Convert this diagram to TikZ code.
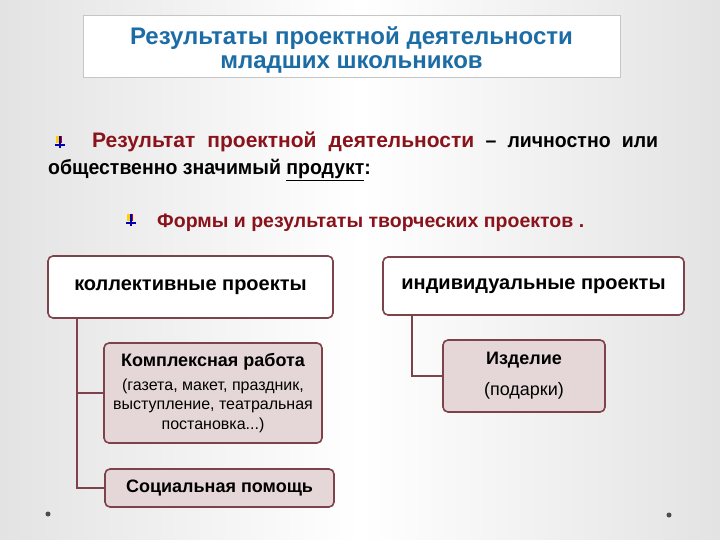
\documentclass[tikz,border=0pt]{standalone}
\usepackage{fontspec}
\setmainfont{Liberation Sans}
\newfontfamily\narrowfont[FakeStretch=0.95]{Liberation Sans}
\usetikzlibrary{calc,positioning}
\definecolor{ttlblue}{RGB}{28,108,165}
\definecolor{dkred}{RGB}{138,18,26}
\definecolor{frame}{RGB}{125,66,74}
\definecolor{pinkgray}{RGB}{229,215,215}
\newcommand{\fs}[1]{\fontsize{#1}{#1}\selectfont}
\newcommand{\bulicon}[1]{%
  \begin{scope}[shift={#1}]
    \fill[yellow!70!orange] (-4,-6) rectangle (0,1);
    \fill[red!80!black] (0,-6) rectangle (2,1);
    \draw[blue!70!black, line width=1.4pt] (0,-6) -- (0,6);
    \draw[blue!70!black, line width=1.4pt] (-5,3) -- (5,3);
  \end{scope}}
\tikzset{
  topbox/.style={draw=frame, line width=1.6pt, rounded corners=5pt, fill=white, inner sep=0pt, align=center},
  subbox/.style={topbox, fill=pinkgray},
  link/.style={draw=frame, line width=1.5pt},
}

\begin{document}
\begin{tikzpicture}[x=1pt,y=-1pt]
  \shade[left color=gray!22, right color=gray!22, middle color=white] (0,0) rectangle (720,540);
  \useasboundingbox (0,0) rectangle (720,540);
  \node[draw=gray!45, fill=white, minimum width=537pt, minimum height=62pt] (titlebox) at (351.5,46) {};
  \node[align=center, text=ttlblue, font=\bfseries\fontsize{24}{24}\selectfont] (title) at ($(titlebox)+(0,4)$)
        {Результаты проектной деятельности\\младших школьников};
  \bulicon{(60,142)}
  \node[anchor=west, inner sep=0pt, font=\narrowfont\bfseries\fs{20.5}] (res) at (92,142)
    {\makebox[566pt][s]{\textcolor{dkred}{\normalfont\bfseries\fs{21}Результат проектной деятельности} – личностно или}};
  \node[anchor=west, inner sep=0pt, font=\narrowfont\bfseries\fs{20.5}] (prod) at (48,170) {общественно значимый \underline{продукт}:};
  \bulicon{(131,220)}
  \node[anchor=west, inner sep=0pt, text=dkred, font=\bfseries\fs{19.5}] (forms) at (157,223) {Формы и результаты творческих проектов .};
  % blocks
  \node[topbox, minimum width=285pt, minimum height=62pt, font=\bfseries\fs{20}] (coll) at (190.5,287) {коллективные проекты};
  \node[topbox, minimum width=301pt, minimum height=58pt, font=\bfseries\fs{20}] (ind) at (533.5,286) {индивидуальные проекты};
  \node[subbox, minimum width=218pt, minimum height=100pt, font=\fs{16}] (cplx) at (213,393)
    {{\bfseries\fs{18}Комплексная работа}\\[8pt](газета, макет, праздник,\\[3.5pt]выступление, театральная\\[3.5pt]постановка...)};
  \node[subbox, minimum width=229pt, minimum height=38pt, font=\bfseries\fs{18}] (soc) at (219.5,488) {Социальная помощь};
  \node[subbox, minimum width=162pt, minimum height=72pt, font=\fs{18}] (izd) at (524,376)
    {{\bfseries Изделие}\\[13pt](подарки)};
  \draw[link] ($(coll.south west)+(30,0)$) |- (cplx.west);
  \draw[link] ($(coll.south west)+(30,0)$) |- (soc.west);
  \draw[link] ($(ind.south west)+(30,0)$) |- (izd.west);
  \fill[gray!60!black] (48,514) circle (2.5);
  \fill[gray!60!black] (669,515) circle (2.5);
\end{tikzpicture}
\end{document}
